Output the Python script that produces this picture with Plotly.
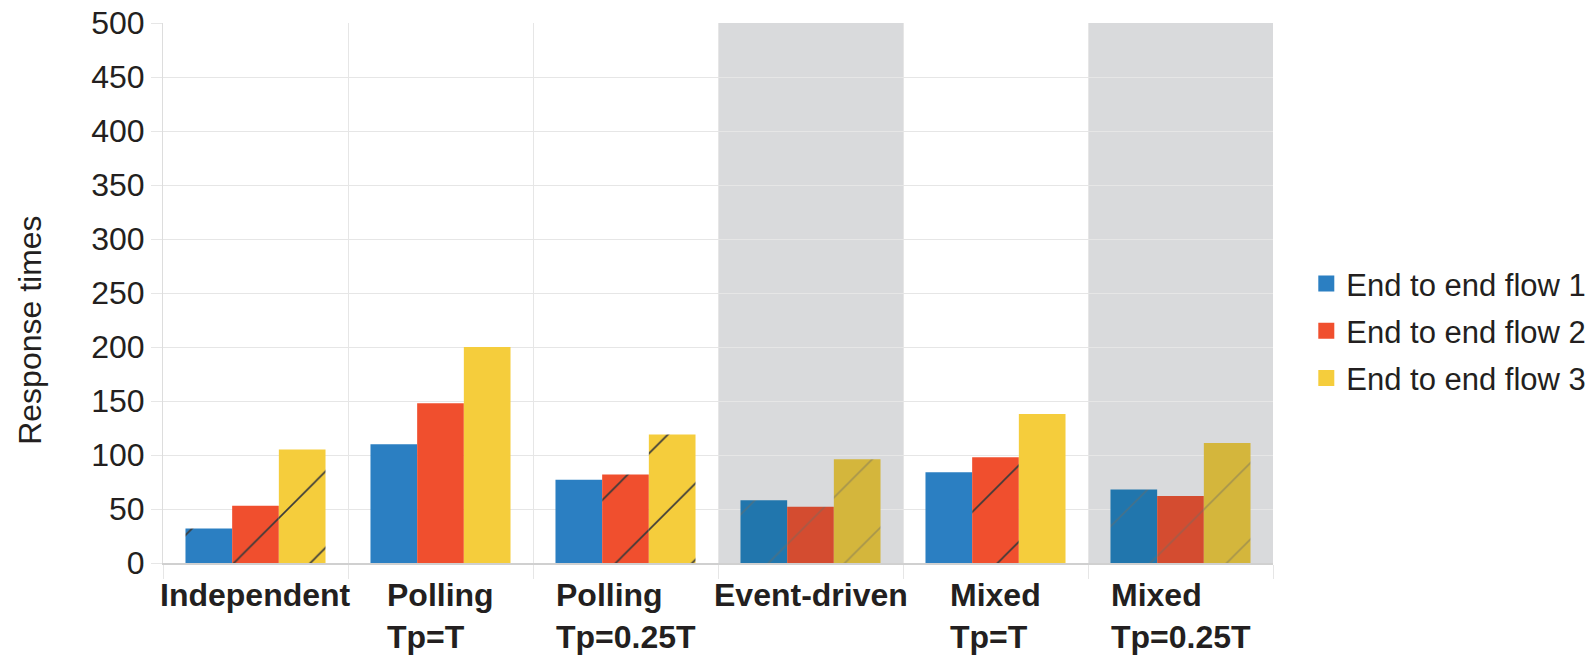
import plotly.graph_objects as go

categories = ["Independent", "Polling Tp=T", "Polling Tp=0.25T", "Event-driven", "Mixed Tp=T", "Mixed Tp=0.25T"]
category_labels = ["Independent", "Polling<br>Tp=T", "Polling<br>Tp=0.25T", "Event-driven", "Mixed<br>Tp=T", "Mixed<br>Tp=0.25T"]
series_names = ["End to end flow 1", "End to end flow 2", "End to end flow 3"]
flow1 = [32, 110, 77, 58, 84, 68]
flow2 = [53, 148, 82, 52, 98, 62]
flow3 = [105, 200, 119, 96, 138, 111]
y_ticks = [0, 50, 100, 150, 200, 250, 300, 350, 400, 450, 500]
shaded_categories = ["Event-driven", "Mixed Tp=0.25T"]

# styles
FONT = "Liberation Sans, Arial, sans-serif"
TEXT = "#231F20"
base_colors = ["#2B7FC2", "#F04F2E", "#F5CD3C"]
shaded_colors = ["#2176AD", "#D44C30", "#D4B63C"]
hatched = [
    [True, False, False, True, False, True],
    [True, False, True, True, True, True],
    [True, False, True, True, False, True],
]

fig = go.Figure()
series = [flow1, flow2, flow3]
for i, (name, vals) in enumerate(zip(series_names, series)):
    for shaded in (False, True):
        idxs = [k for k, c in enumerate(categories) if (c in shaded_categories) == shaded]
        fig.add_trace(go.Bar(
            x=[categories[k] for k in idxs], y=[vals[k] for k in idxs],
            name=name, showlegend=False, offsetgroup=str(i),
            marker=dict(color=shaded_colors[i] if shaded else base_colors[i], line=dict(width=0),
                        pattern=dict(shape=["/" if hatched[i][k] else "" for k in idxs],
                                     size=54, solidity=0.03,
                                     fgcolor="#3A3A3A" if not shaded else "#6E6A60",
                                     fgopacity=1.0 if not shaded else 0.45,
                                     fillmode="overlay")),
        ))
    fig.add_trace(go.Scatter(
        x=[None], y=[None], mode="markers", name=name, showlegend=True, legendgroup=name,
        marker=dict(symbol="square", size=20, color=base_colors[i]),
    ))

for c in shaded_categories:
    idx = categories.index(c)
    fig.add_shape(type="rect", xref="x", yref="paper", x0=idx - 0.5, x1=idx + 0.5, y0=0, y1=1,
                  fillcolor="rgba(180,181,185,0.5)", line=dict(width=0), layer="between")

for lab, c in zip(category_labels, categories):
    fig.add_annotation(x=c, xref="x", y=0, yref="paper", text="<b>" + lab + "</b>",
                       showarrow=False, xanchor="center", yanchor="top", align="left",
                       yshift=-12,
                       font=dict(family=FONT, size=32, color=TEXT))

fig.add_annotation(text="Response times", xref="paper", yref="paper", x=-0.1198, y=0.43,
                   textangle=-90, showarrow=False, xanchor="center", yanchor="middle",
                   font=dict(family=FONT, size=32, color=TEXT))

fig.update_layout(
    width=1592, height=655,
    margin=dict(l=163, r=319, t=23, b=92, autoexpand=False),
    paper_bgcolor="white", plot_bgcolor="white",
    barmode="group", bargap=0.243, bargroupgap=0,
    font=dict(family=FONT, size=31, color=TEXT),
    legend=dict(x=1.03, y=0.43, xanchor="left", yanchor="middle",
                font=dict(size=31, color=TEXT), itemsizing="trace", tracegroupgap=4),
    xaxis=dict(type="category", categoryorder="array", categoryarray=categories,
               tickson="boundaries", showgrid=True, gridcolor="#E6E6E6", gridwidth=1,
               ticks="outside", ticklen=14, tickcolor="#E6E6E6", showticklabels=False, automargin=False,
               showline=True, linecolor="#D0D0D0", linewidth=2, range=[-0.5, 5.5]),
    yaxis=dict(range=[0, 500], tickvals=y_ticks, showgrid=True, gridcolor="#E6E6E6", gridwidth=1,
               ticks="outside", ticklen=11, tickcolor="#E6E6E6", showline=True, linecolor="#DDDDDD",
               linewidth=1, zeroline=False, automargin=False, tickfont=dict(size=32, color=TEXT)),
)

fig.write_html("out.html")
